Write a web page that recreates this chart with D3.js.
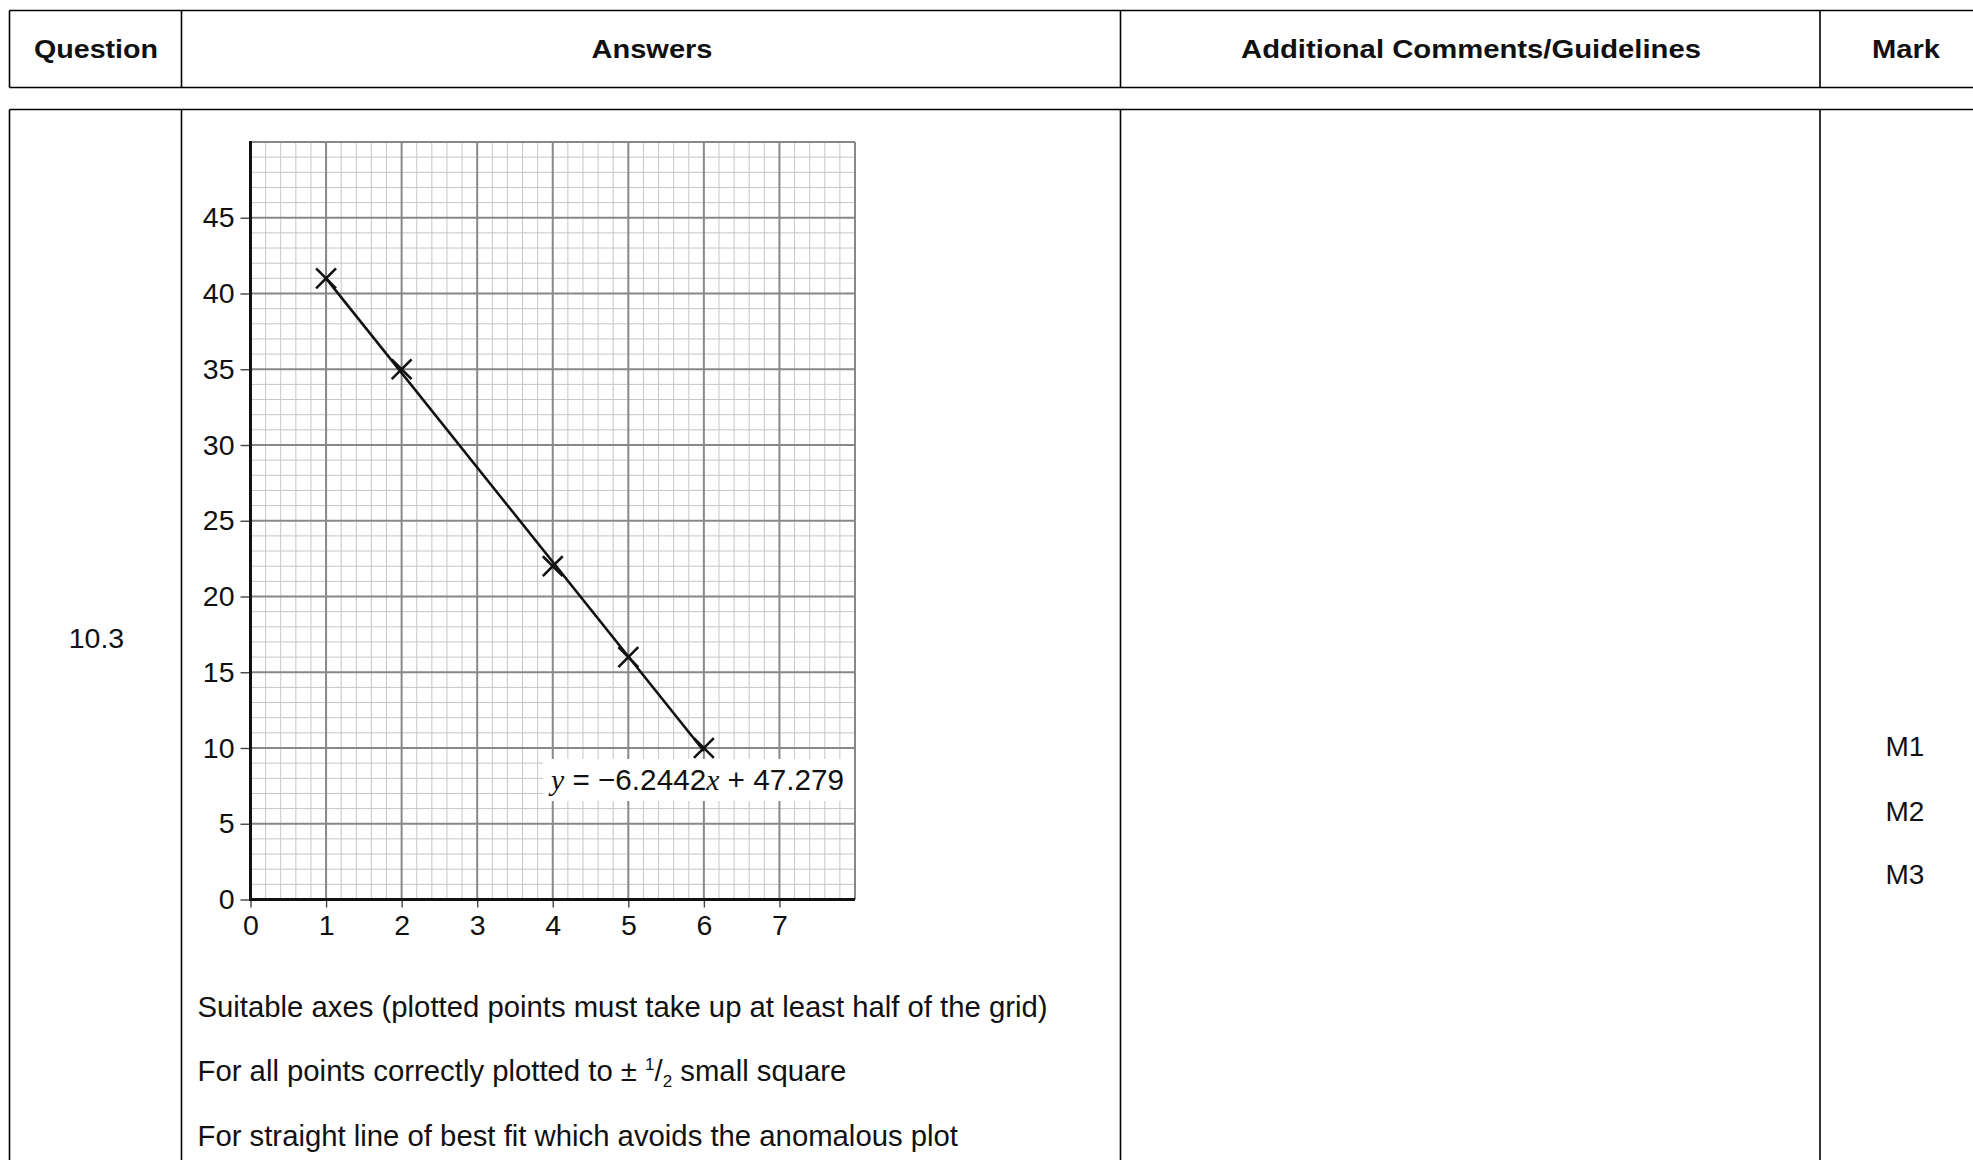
<!DOCTYPE html>
<html>
<head>
<meta charset="utf-8">
<script src="https://cdn.jsdelivr.net/npm/d3@7"></script>
<style>
  html, body { margin: 0; padding: 0; background: #fff; }
  svg { display: block; }
  text { font-family: "Liberation Sans", Arial, sans-serif; fill: #111; }
</style>
</head>
<body>
<svg id="chart" width="1973" height="1160"></svg>
<script>
// ---- data ----
const headers = ["Question", "Answers", "Additional Comments/Guidelines", "Mark"];
const questionLabel = "10.3";
const marks = ["M1", "M2", "M3"];
const xTicks = [0, 1, 2, 3, 4, 5, 6, 7];
const yTicks = [0, 5, 10, 15, 20, 25, 30, 35, 40, 45];
const pointX = [1, 2, 4, 5, 6];
const pointY = [41, 35, 22, 16, 10];
const fitX = [1, 6];
const fitY = [41.0, 9.8];
const equationParts = ["y", " = \u22126.2442", "x", " + 47.279"];
const guideLines = [
  "Suitable axes (plotted points must take up at least half of the grid)",
  "For all points correctly plotted to \u00b1 ",
  "For straight line of best fit which avoids the anomalous plot"
];

const svg = d3.select("#chart");

// ---- table layout ----
const colX = [9.5, 181.5, 1120.5, 1820];
const rightEdge = 1973;
const headTop = 10.5, headBottom = 87.5, bodyTop = 109.5, bodyBottom = 1170;
const table = svg.append("g").attr("stroke", "#000").attr("stroke-width", 1.6).attr("fill", "none");
[headTop, headBottom, bodyTop].forEach(yv => {
  table.append("line").attr("x1", colX[0]).attr("x2", rightEdge).attr("y1", yv).attr("y2", yv);
});
colX.forEach(xv => {
  table.append("line").attr("x1", xv).attr("x2", xv).attr("y1", headTop).attr("y2", headBottom);
  table.append("line").attr("x1", xv).attr("x2", xv).attr("y1", bodyTop).attr("y2", bodyBottom);
});

const headCenters = [96, 652, 1471, 1906];
const headWidths = [124, 121, 460, 68];
headers.forEach((h, i) => {
  svg.append("text").attr("x", headCenters[i]).attr("y", 58)
    .attr("text-anchor", "middle").attr("font-weight", "bold").attr("font-size", 25)
    .attr("textLength", headWidths[i]).attr("lengthAdjust", "spacingAndGlyphs")
    .text(h);
});

svg.append("text").attr("x", 96.5).attr("y", 648).attr("text-anchor", "middle")
  .attr("font-size", 28.5).text(questionLabel);

const markY = [755.5, 821, 884];
marks.forEach((m, i) => {
  svg.append("text").attr("x", 1905).attr("y", markY[i]).attr("text-anchor", "middle")
    .attr("font-size", 28).text(m);
});

// ---- chart ----
const x = d3.scaleLinear().domain([0, 8]).range([250.5, 855]);
const y = d3.scaleLinear().domain([0, 50]).range([899.5, 142]);

const grid = svg.append("g");
const minorX = d3.range(0, 8.0001, 0.2);
const minorY = d3.range(0, 50.0001, 1);
grid.selectAll(".mx").data(minorX.filter(v => Math.abs(v - Math.round(v)) > 1e-6)).join("line")
  .attr("x1", d => x(d)).attr("x2", d => x(d)).attr("y1", y(0)).attr("y2", y(50))
  .attr("stroke", "#c6c6c6").attr("stroke-width", 1);
grid.selectAll(".my").data(minorY.filter(v => v % 5 !== 0)).join("line")
  .attr("x1", x(0)).attr("x2", x(8)).attr("y1", d => y(d)).attr("y2", d => y(d))
  .attr("stroke", "#c6c6c6").attr("stroke-width", 1);
grid.selectAll(".Mx").data(d3.range(1, 9)).join("line")
  .attr("x1", d => x(d)).attr("x2", d => x(d)).attr("y1", y(0)).attr("y2", y(50))
  .attr("stroke", "#888").attr("stroke-width", 2);
grid.selectAll(".My").data(d3.range(5, 51, 5)).join("line")
  .attr("x1", x(0)).attr("x2", x(8)).attr("y1", d => y(d)).attr("y2", d => y(d))
  .attr("stroke", "#888").attr("stroke-width", 2);

// equation label box (covers the grid)
svg.append("rect").attr("x", 543).attr("y", 759)
  .attr("width", x(8) - 543 - 1).attr("height", 42).attr("fill", "#fff");

const eq = svg.append("text").attr("x", 551).attr("y", 790).attr("font-size", 30)
  .attr("textLength", 293).attr("lengthAdjust", "spacingAndGlyphs");
equationParts.forEach((p, i) => {
  const t = eq.append("tspan").text(p);
  if (i % 2 === 0) t.attr("font-family", "'Liberation Serif', 'Times New Roman', serif").attr("font-style", "italic");
});

// axes
const yAxis = d3.axisLeft(y).tickValues(yTicks).tickSize(10).tickPadding(6).tickFormat(d3.format("d"));
const xAxis = d3.axisBottom(x).tickValues(xTicks).tickSize(8).tickPadding(7).tickFormat(d3.format("d"));
const gy = svg.append("g").attr("transform", `translate(${x(0)},0)`).call(yAxis);
const gx = svg.append("g").attr("transform", `translate(0,${y(0)})`).call(xAxis);
[gx, gy].forEach(g => {
  g.select(".domain").remove();
  g.selectAll(".tick line").attr("stroke", "#444").attr("stroke-width", 1.4);
  g.selectAll(".tick text").attr("font-size", 28.5).attr("fill", "#111")
    .attr("font-family", "'Liberation Sans', Arial, sans-serif");
});
svg.append("line").attr("x1", x(0)).attr("x2", x(0)).attr("y1", y(50) - 1).attr("y2", y(0) + 1.5)
  .attr("stroke", "#111").attr("stroke-width", 3);
svg.append("line").attr("x1", x(0) - 1.5).attr("x2", x(8)).attr("y1", y(0)).attr("y2", y(0))
  .attr("stroke", "#111").attr("stroke-width", 3);

// best fit line
svg.append("path").datum(fitX.map((d, i) => [d, fitY[i]]))
  .attr("d", d3.line().x(d => x(d[0])).y(d => y(d[1])))
  .attr("stroke", "#111").attr("stroke-width", 2.6).attr("fill", "none");

// cross markers
const cross = d3.symbol().type(d3.symbolX).size(260);
svg.selectAll(".pt").data(pointX.map((d, i) => [d, pointY[i]])).join("path")
  .attr("transform", d => `translate(${x(d[0])},${y(d[1])})`)
  .attr("d", cross).attr("fill", "none").attr("stroke", "#111").attr("stroke-width", 2.6);

// guideline text
const guideY = [1016.5, 1081, 1145.5];
guideLines.forEach((g, i) => {
  const t = svg.append("text").attr("x", 197.5).attr("y", guideY[i]).attr("font-size", 29.3);
  t.append("tspan").text(g);
  if (i === 1) {
    t.append("tspan").attr("font-size", 17).attr("dy", -11).text("1");
    t.append("tspan").attr("dy", 11).text("/");
    t.append("tspan").attr("font-size", 17).attr("dy", 6).text("2");
    t.append("tspan").attr("dy", -6).text(" small square");
  }
});
</script>
</body>
</html>
